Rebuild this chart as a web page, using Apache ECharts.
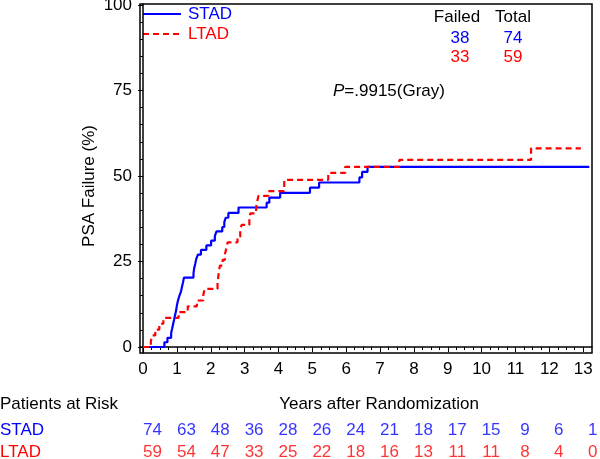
<!DOCTYPE html>
<html><head><meta charset="utf-8">
<script src="https://cdn.jsdelivr.net/npm/echarts@6/dist/echarts.min.js"></script>
<style>html,body{margin:0;padding:0;background:#fff}#c{width:600px;height:459px}</style>
</head><body><div id="c"></div>
<script>
// ---- data ----
const groups = ['STAD', 'LTAD'];
const stadCurve = [
  [0,0],[0.63,1.4],[0.72,2.7],[0.83,4.1],[0.86,5.4],[0.89,6.8],[0.92,8.1],[0.95,9.5],
  [0.98,10.8],[1.0,12.2],[1.03,13.5],[1.07,14.9],[1.12,16.2],[1.15,17.6],[1.18,18.9],
  [1.21,20.3],[1.49,21.6],[1.51,23.0],[1.54,24.3],[1.57,25.7],[1.62,27.0],[1.71,28.4],
  [1.87,29.7],[2.01,31.1],[2.12,32.4],[2.17,33.8],[2.34,35.1],[2.40,36.5],[2.44,37.8],
  [2.52,39.2],[2.82,40.8],[3.65,42.2],[3.73,43.7],[4.05,45.1],[4.93,46.6],[5.20,48.1],
  [6.39,49.6],[6.47,51.2],[6.63,52.7],[13.18,52.7]
];
const ltadCurve = [
  [0,0],[0.23,1.7],[0.27,3.4],[0.36,5.1],[0.48,6.8],[0.60,8.5],[1.05,10.2],[1.32,11.9],
  [1.59,13.6],[1.78,15.3],[1.82,17.0],[2.20,18.7],[2.22,20.4],[2.24,22.1],[2.27,23.8],
  [2.35,25.5],[2.42,27.2],[2.46,28.9],[2.50,30.6],[2.79,32.3],[2.87,34.0],[2.91,35.7],
  [3.14,37.4],[3.17,39.1],[3.34,40.8],[3.37,42.5],[3.41,44.2],[3.70,45.6],[4.17,48.9],
  [5.47,50.9],[5.97,52.7],[7.57,54.7],[11.46,58.1],[12.93,58.1]
];
const riskYears = [0,1,2,3,4,5,6,7,8,9,10,11,12,13];
const riskSTAD = [74,63,48,36,28,26,24,21,18,17,15,9,6,1];
const riskLTAD = [59,54,47,33,25,22,18,16,13,11,11,8,4,0];
const failed = [38, 33];
const total = [74, 59];
const pText = '.9915(Gray)';
const xTicks = [0,1,2,3,4,5,6,7,8,9,10,11,12,13];
const yTicks = [0,25,50,75,100];

// ---- styling helpers ----
const blue = '#0000ff', red = '#ff0000';
const colors = [blue, red];
const dashes = ['solid', [6, 4]];
const FONT = 'Liberation Sans';
const FS = 17;
const F = FS + 'px "' + FONT + '"';
const xMin = -0.09, xMax = 13.26, yMin = -1.75, yMax = 100.3;
const xMinor = []; for (let v = 0; v <= 13.001; v += 0.25) xMinor.push(+v.toFixed(2));
const yMinor = []; for (let v = 0; v <= 100; v += 5) yMinor.push(v);

const chart = echarts.init(document.getElementById('c'), null, {renderer: 'canvas'});
const axisBase = {type: 'value', min: xMin, max: xMax, splitLine: {show: false}};

chart.setOption({
  animation: false,
  textStyle: {fontFamily: FONT},
  grid: [
    {left: 140, right: 8, top: 4, bottom: 106, show: true, borderColor: '#000', borderWidth: 1.5,
      outerBoundsMode: 'none', containLabel: false},
    {left: 140, right: 8, top: 420, height: 43, outerBoundsMode: 'none', containLabel: false}
  ],
  xAxis: [
    Object.assign({}, axisBase, {gridIndex: 0, position: 'bottom',
      axisLine: {lineStyle: {color: '#000', width: 1.5}},
      axisTick: {customValues: xTicks, length: 5, lineStyle: {color: '#000'}},
      axisLabel: {customValues: xTicks, fontSize: FS, color: '#000', margin: 8, fontFamily: FONT}}),
    Object.assign({}, axisBase, {gridIndex: 0, position: 'bottom',
      axisLine: {show: false},
      axisTick: {customValues: xMinor, length: 3, lineStyle: {color: '#000'}},
      axisLabel: {show: false}}),
    Object.assign({}, axisBase, {gridIndex: 1, show: false})
  ],
  yAxis: [
    {gridIndex: 0, type: 'value', min: yMin, max: yMax, position: 'left', splitLine: {show: false},
      axisLine: {show: true, lineStyle: {color: '#000', width: 1.5}},
      axisTick: {show: true, customValues: yTicks, length: 5, lineStyle: {color: '#000'}},
      axisLabel: {customValues: yTicks, fontSize: FS, color: '#000', margin: 8, fontFamily: FONT}},
    {gridIndex: 0, type: 'value', min: yMin, max: yMax, position: 'left', splitLine: {show: false},
      axisLine: {show: false},
      axisTick: {show: true, customValues: yMinor, length: 3, lineStyle: {color: '#000'}},
      axisLabel: {show: false}},
    {gridIndex: 1, type: 'category', data: groups, inverse: true,
      axisLine: {show: false}, axisTick: {show: false}, splitLine: {show: false},
      axisLabel: {interval: 0, hideOverlap: false, align: 'left', margin: 140, fontSize: FS, fontFamily: FONT,
        formatter: v => '{' + v + '|' + v + '}',
        rich: {STAD: {color: blue, fontSize: FS, fontFamily: FONT}, LTAD: {color: red, fontSize: FS, fontFamily: FONT}}}}
  ],
  series: [
    {name: 'STAD', type: 'line', xAxisIndex: 0, yAxisIndex: 0, step: 'end', symbol: 'none',
      data: stadCurve, color: blue, lineStyle: {color: blue, width: 2.2}, z: 3},
    {name: 'LTAD', type: 'line', xAxisIndex: 0, yAxisIndex: 0, step: 'end', symbol: 'none',
      data: ltadCurve, color: red, lineStyle: {color: red, width: 2.2, type: [6, 4]}, z: 4},
    ...[riskSTAD, riskLTAD].map((arr, gi) => ({
      name: 'risk' + groups[gi], type: 'scatter', xAxisIndex: 2, yAxisIndex: 2,
      symbolSize: 1, itemStyle: {color: 'rgba(0,0,0,0)'},
      data: riskYears.map((t, i) => [t, groups[gi], arr[i]]),
      label: {show: true, position: 'inside', formatter: p => String(p.data[2]),
        color: colors[gi], fontSize: FS, fontFamily: FONT, align: 'center', verticalAlign: 'middle', offset: [9.5, 0]}
    }))
  ],
  graphic: [
    // legend
    ...groups.flatMap((g, i) => [
      {type: 'line', shape: {x1: 143, y1: 14 + i * 20, x2: 181, y2: 14 + i * 20},
        style: {stroke: colors[i], lineWidth: 2.2, lineDash: dashes[i] === 'solid' ? null : dashes[i]}},
      {type: 'text', x: 188, y: 14 + i * 20,
        style: {text: g, font: F, fill: colors[i], align: 'left', verticalAlign: 'middle'}}
    ]),
    {type: 'text', x: 89, y: 186, rotation: Math.PI / 2,
      style: {text: 'PSA Failure (%)', font: F, fill: '#000', align: 'center', verticalAlign: 'middle'}},
    {type: 'text', x: 379, y: 404,
      style: {text: 'Years after Randomization', font: F, fill: '#000', align: 'center', verticalAlign: 'middle'}},
    {type: 'text', x: 0, y: 404,
      style: {text: 'Patients at Risk', font: F, fill: '#000', align: 'left', verticalAlign: 'middle'}},
    {type: 'text', x: 457, y: 17,
      style: {text: 'Failed', font: F, fill: '#000', align: 'center', verticalAlign: 'middle'}},
    {type: 'text', x: 513, y: 17,
      style: {text: 'Total', font: F, fill: '#000', align: 'center', verticalAlign: 'middle'}},
    ...groups.flatMap((g, i) => [
      {type: 'text', x: 460, y: 38 + i * 19,
        style: {text: String(failed[i]), font: F, fill: colors[i], align: 'center', verticalAlign: 'middle'}},
      {type: 'text', x: 513, y: 38 + i * 19,
        style: {text: String(total[i]), font: F, fill: colors[i], align: 'center', verticalAlign: 'middle'}}
    ]),
    {type: 'text', x: 333, y: 91,
      style: {text: '{i|P}{n|=' + pText + '}', font: F, fill: '#000', align: 'left', verticalAlign: 'middle',
        rich: {i: {fontStyle: 'italic', fontSize: FS, fontFamily: FONT, fill: '#000'},
               n: {fontSize: FS, fontFamily: FONT, fill: '#000'}}}}
  ]
});
</script></body></html>
